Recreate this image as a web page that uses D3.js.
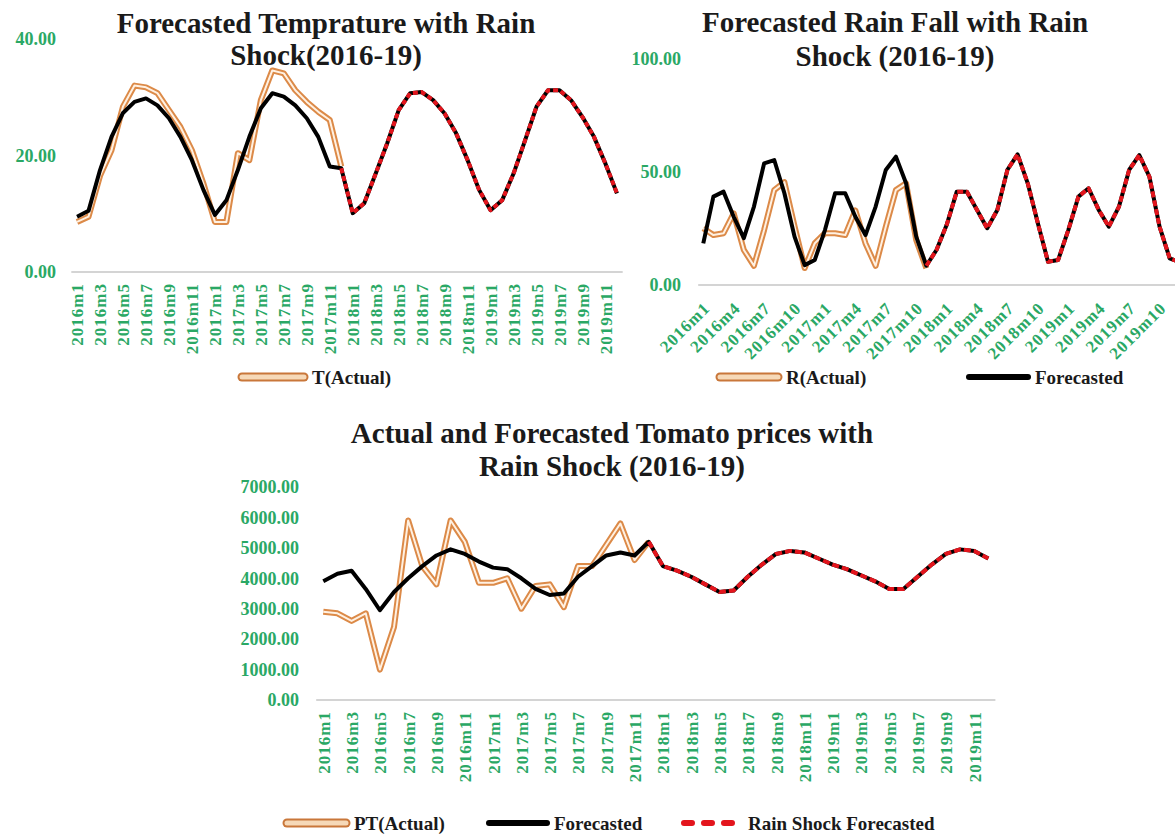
<!DOCTYPE html>
<html>
<head>
<meta charset="utf-8">
<script src="https://cdn.jsdelivr.net/npm/d3@7"></script>
<style>
  html, body { margin: 0; padding: 0; background: #fff; }
  svg { display: block; }
  text { font-family: "Liberation Serif", "Times New Roman", serif; font-weight: bold; }
</style>
</head>
<body>
<svg id="chart" width="1175" height="836"></svg>
<script>
// Monthly categories, 2016–2019
const months = [
  "2016m1","2016m2","2016m3","2016m4","2016m5","2016m6","2016m7","2016m8","2016m9","2016m10","2016m11","2016m12",
  "2017m1","2017m2","2017m3","2017m4","2017m5","2017m6","2017m7","2017m8","2017m9","2017m10","2017m11","2017m12",
  "2018m1","2018m2","2018m3","2018m4","2018m5","2018m6","2018m7","2018m8","2018m9","2018m10","2018m11","2018m12",
  "2019m1","2019m2","2019m3","2019m4","2019m5","2019m6","2019m7","2019m8","2019m9","2019m10","2019m11","2019m12"
];

// Temperature (°C)
const tempActual = [8.6, 9.5, 16.5, 20.9, 28.4, 32.0, 31.7, 30.7, 27.8, 24.9, 20.9, 15.2,
                    8.6, 8.6, 20.4, 19.2, 29.5, 34.6, 34.1, 31.2, 29.2, 27.5, 26.1, 18.1];
const tempForecast = [9.5, 10.5, 17.5, 23.2, 27.3, 29.2, 29.8, 28.6, 26.4, 23.2, 19.2, 14.1,
                      9.8, 12.3, 17.5, 23.2, 28.1, 30.7, 30.1, 28.6, 26.4, 23.2, 18.1, 17.8,
                      10.1, 11.8, 16.9, 22.1, 27.8, 30.7, 30.9, 29.5, 27.2, 23.8, 19.2, 14.1,
                      10.6, 12.3, 16.9, 22.6, 28.4, 31.2, 31.2, 29.5, 26.6, 23.2, 18.6, 13.5];
const tempShockStart = 23; // 2017m12
const tempShock = [17.8, 10.1, 11.8, 16.9, 22.1, 27.8, 30.7, 30.9, 29.5, 27.2, 23.8, 19.2, 14.1,
                   10.6, 12.3, 16.9, 22.6, 28.4, 31.2, 31.2, 29.5, 26.6, 23.2, 18.6, 13.5];

// Rainfall (mm)
const rainActual = [25.1, 22.1, 22.9, 31.7, 15.5, 8.5, 24.3, 42.0, 45.5, 26.0, 7.5, 18.5,
                    22.9, 22.9, 22.1, 33.0, 18.4, 8.5, 25.8, 42.0, 45.0, 19.9, 7.4];
const rainForecast = [18.4, 39.1, 41.3, 30.2, 20.7, 34.7, 53.8, 55.3, 40.6, 21.4, 8.8, 11.1,
                      24.3, 40.6, 40.6, 30.2, 22.1, 34.7, 50.9, 56.8, 45.0, 21.4, 8.5, 15.5,
                      26.5, 41.3, 41.3, 33.2, 25.1, 33.2, 51.0, 57.8, 45.0, 27.3, 10.3, 11.1,
                      24.3, 39.1, 42.8, 33.2, 25.8, 34.7, 50.9, 57.5, 47.9, 25.8, 11.8, 10.0];
const rainShockStart = 22; // 2017m11
const rainShock = [8.5, 15.5, 26.5, 41.3, 41.3, 33.2, 25.1, 33.2, 51.0, 57.8, 45.0, 27.3, 10.3,
                   11.1, 24.3, 39.1, 42.8, 33.2, 25.8, 34.7, 50.9, 57.5, 47.9, 25.8, 11.8, 10.0];

// Tomato prices
const priceActual = [2900, 2850, 2600, 2850, 1000, 2400, 5900, 4400, 3800, 5900, 5200, 3850,
                     3850, 4000, 3000, 3750, 3800, 3050, 4400, 4400, 5100, 5800, 4600, 5200];
const priceForecast = [3900, 4150, 4250, 3650, 2950, 3550, 4000, 4400, 4750, 4950, 4800, 4550,
                       4350, 4300, 4000, 3650, 3450, 3500, 4050, 4400, 4750, 4850, 4750, 5200,
                       4400, 4250, 4050, 3800, 3550, 3600, 4050, 4450, 4800, 4900, 4850, 4650,
                       4450, 4300, 4100, 3900, 3650, 3650, 4050, 4450, 4800, 4950, 4900, 4650];
const priceShockStart = 23; // 2017m12
const priceShock = [5200, 4400, 4250, 4050, 3800, 3550, 3600, 4050, 4450, 4800, 4900, 4850, 4650,
                    4450, 4300, 4100, 3900, 3650, 3650, 4050, 4450, 4800, 4950, 4900, 4650];

// Axis ticks
const tempTicks = [0, 20, 40];
const rainTicks = [0, 50, 100];
const priceTicks = [0, 1000, 2000, 3000, 4000, 5000, 6000, 7000];
const everySecondMonth = months.filter((m, i) => i % 2 === 0);
const everyThirdMonth = months.filter((m, i) => i % 3 === 0);

const GREEN = "#2aa865";
const ORANGE = "#dc8a48";
const ORANGE_IN = "#fff1e2";
const RED = "#e3151d";

const svg = d3.select("#chart");

function series(values, start) {
  return values.map((v, i) => ({ m: months[start + i], v }));
}

function drawPanel(cfg) {
  const g = svg.append("g");
  const x = d3.scalePoint().domain(months).range(cfg.xRange).padding(0.5);
  const y = d3.scaleLinear().domain(cfg.yDomain).range(cfg.yRange);

  // baseline
  g.append("line")
    .attr("x1", cfg.xRange[0]).attr("x2", cfg.xRange[1])
    .attr("y1", y(0)).attr("y2", y(0))
    .attr("stroke", "#d4d4d4").attr("stroke-width", 2);

  // value axis
  const ya = g.append("g")
    .attr("transform", `translate(${cfg.yAxisX},0)`)
    .call(d3.axisLeft(y).tickValues(cfg.yTicks).tickFormat(d3.format(".2f")).tickSize(0).tickPadding(0));
  ya.select(".domain").remove();
  ya.selectAll("text")
    .attr("fill", GREEN)
    .style("font-size", cfg.yFont + "px")
    .style("font-family", '"Liberation Serif", "Times New Roman", serif')
    .style("font-weight", "bold");

  // category axis
  const xa = g.append("g")
    .attr("transform", `translate(0,${y(0)})`)
    .call(d3.axisBottom(x).tickValues(cfg.xTicks).tickSize(0));
  xa.select(".domain").remove();
  xa.selectAll("text")
    .attr("fill", GREEN)
    .attr("x", 0).attr("y", 0).attr("dy", "0.35em")
    .attr("text-anchor", "end")
    .attr("transform", cfg.xLabelTransform)
    .style("font-size", cfg.xFont + "px")
    .style("letter-spacing", cfg.xSpacing + "px")
    .style("font-family", '"Liberation Serif", "Times New Roman", serif')
    .style("font-weight", "bold");

  const line = d3.line().x(d => x(d.m)).y(d => y(d.v));

  // actual: double (outlined) line
  const act = series(cfg.actual, 0);
  g.append("path").datum(act).attr("d", line)
    .attr("fill", "none").attr("stroke", ORANGE).attr("stroke-width", 6)
    .attr("stroke-linejoin", "round");
  g.append("path").datum(act).attr("d", line)
    .attr("fill", "none").attr("stroke", ORANGE_IN).attr("stroke-width", 2)
    .attr("stroke-linejoin", "round");

  // forecast
  g.append("path").datum(series(cfg.forecast, 0)).attr("d", line)
    .attr("fill", "none").attr("stroke", "#000").attr("stroke-width", 4)
    .attr("stroke-linejoin", "round");

  // rain shock forecast
  g.append("path").datum(series(cfg.shock, cfg.shockStart)).attr("d", line)
    .attr("fill", "none").attr("stroke", RED).attr("stroke-width", 4)
    .attr("stroke-dasharray", cfg.dash)
    .attr("stroke-linejoin", "round");

  // title
  cfg.title.forEach((t, i) => {
    svg.append("text")
      .attr("x", cfg.titleX).attr("y", cfg.titleY[i])
      .attr("text-anchor", "middle")
      .attr("fill", "#1a1a1a")
      .style("font-size", "29px")
      .text(t);
  });
}

drawPanel({
  xRange: [71.3, 622.7], yDomain: [0, 40], yRange: [272, 39],
  yTicks: tempTicks, yAxisX: 56, yFont: 18,
  xTicks: everySecondMonth, xFont: 17, xSpacing: 1,
  xLabelTransform: "translate(0,11) rotate(-90)",
  actual: tempActual, forecast: tempForecast, shock: tempShock, shockStart: tempShockStart,
  dash: "5,3",
  title: ["Forecasted Temprature with Rain", "Shock(2016-19)"], titleX: 326, titleY: [33, 65]
});

drawPanel({
  xRange: [698.2, 1184.9], yDomain: [0, 100], yRange: [285, 59],
  yTicks: rainTicks, yAxisX: 681, yFont: 18,
  xTicks: everyThirdMonth, xFont: 17, xSpacing: 1,
  xLabelTransform: "translate(3,20) rotate(-45)",
  actual: rainActual, forecast: rainForecast, shock: rainShock, shockStart: rainShockStart,
  dash: "6,3",
  title: ["Forecasted Rain Fall with Rain", "Shock (2016-19)"], titleX: 895, titleY: [32, 66]
});

drawPanel({
  xRange: [316.2, 995.4], yDomain: [0, 7000], yRange: [700, 487],
  yTicks: priceTicks, yAxisX: 299, yFont: 18,
  xTicks: everySecondMonth, xFont: 17, xSpacing: 1,
  xLabelTransform: "translate(0,11) rotate(-90)",
  actual: priceActual, forecast: priceForecast, shock: priceShock, shockStart: priceShockStart,
  dash: "7,3",
  title: ["Actual and Forecasted Tomato prices with", "Rain Shock (2016-19)"], titleX: 612, titleY: [443, 476]
});

// Legends
function legendActual(x1, x2, y, label) {
  svg.append("line").attr("x1", x1).attr("x2", x2).attr("y1", y).attr("y2", y)
    .attr("stroke", "#c9773a").attr("stroke-width", 9).attr("stroke-linecap", "round");
  svg.append("line").attr("x1", x1).attr("x2", x2).attr("y1", y).attr("y2", y)
    .attr("stroke", "#f6d9b8").attr("stroke-width", 5).attr("stroke-linecap", "round");
  legendText(x2 + 8, y, label);
}
function legendForecast(x1, x2, y, label) {
  svg.append("line").attr("x1", x1).attr("x2", x2).attr("y1", y).attr("y2", y)
    .attr("stroke", "#000").attr("stroke-width", 6).attr("stroke-linecap", "round");
  legendText(x2 + 7, y, label);
}
function legendShock(x1, x2, y, label) {
  svg.append("line").attr("x1", x1).attr("x2", x2).attr("y1", y).attr("y2", y)
    .attr("stroke", RED).attr("stroke-width", 6).attr("stroke-linecap", "round")
    .attr("stroke-dasharray", "8,12");
  legendText(x2 + 9, y, label);
}
function legendText(x, y, label) {
  svg.append("text").attr("x", x).attr("y", y).attr("dy", "0.35em")
    .attr("fill", "#1a1a1a").style("font-size", "19px").text(label);
}

legendActual(242, 304, 377, "T(Actual)");
legendActual(720, 778, 377, "R(Actual)");
legendForecast(969, 1028, 377, "Forecasted");
legendActual(287, 346, 823, "PT(Actual)");
legendForecast(489, 547, 823, "Forecasted");
legendShock(684, 739, 823, "Rain Shock Forecasted");
</script>
</body>
</html>
